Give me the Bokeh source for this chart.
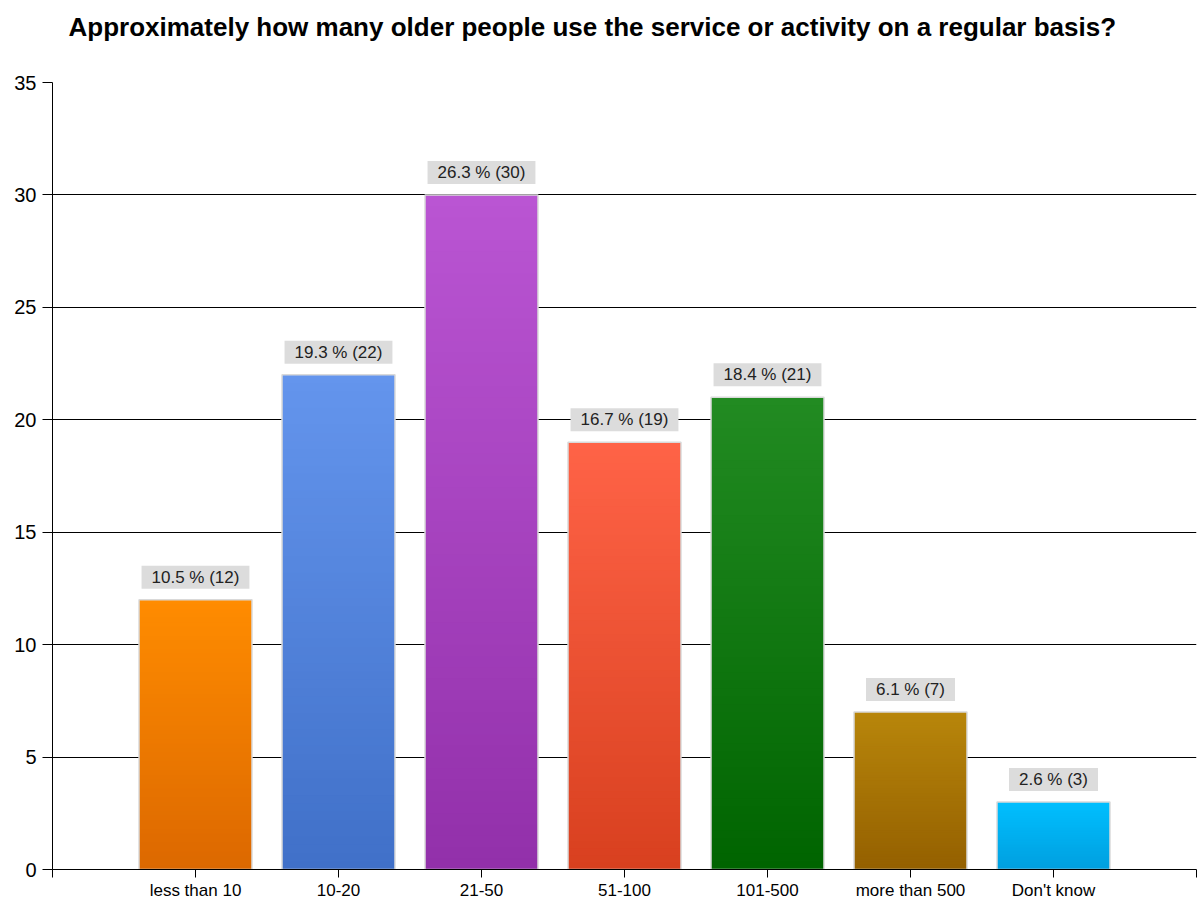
from bokeh.plotting import figure
from bokeh.models import FixedTicker, ColumnDataSource
from bokeh.core.properties import value
from bokeh.embed import file_html
from bokeh.resources import INLINE

categories = ["less than 10", "10-20", "21-50", "51-100", "101-500", "more than 500", "Don't know"]
counts = [12, 22, 30, 19, 21, 7, 3]
percents = [10.5, 19.3, 26.3, 16.7, 18.4, 6.1, 2.6]
top_colors = ["#FF8C00", "#6495ED", "#BA55D3", "#FF6347", "#228B22", "#B8860B", "#00BFFF"]
bottom_colors = ["#DC6800", "#4070C8", "#9230AA", "#D8401F", "#006400", "#946000", "#009FDF"]
y_ticks = [0, 5, 10, 15, 20, 25, 30, 35]
title_text = "Approximately how many older people use the service or activity on a regular basis?"

FONT = "Liberation Sans"

# a trailing empty line lifts the title towards the top of the page
p = figure(width=1198, height=900, x_range=(0, 8), y_range=(0, 35),
           output_backend="svg", toolbar_location=None, title=title_text + "\n ",
           min_border_left=52, min_border_right=2, min_border_top=82, min_border_bottom=20)
p.frame_width = 1144
p.frame_height = 787
p.outline_line_color = None
p.background_fill_color = "white"

p.title.text_font = FONT
p.title.text_font_size = "26px"
p.title.text_font_style = "bold"
p.title.align = "left"
p.title.vertical_align = "top"
p.title.offset = 16
p.title.standoff = 18
p.title.text_color = "black"

xs = list(range(1, len(categories) + 1))


def hex2rgb(h):
    h = h.lstrip("#")
    return tuple(int(h[i:i + 2], 16) for i in (0, 2, 4))


N = 60
bw = 0.79
L, R, B, T, C = [], [], [], [], []
for x, v, tc, bc in zip(xs, counts, top_colors, bottom_colors):
    t = hex2rgb(tc)
    b = hex2rgb(bc)
    for i in range(N):
        f = (i + 0.5) / N
        col = tuple(int(round(b[k] + (t[k] - b[k]) * f)) for k in range(3))
        L.append(x - bw / 2)
        R.append(x + bw / 2)
        B.append(v * i / N)
        T.append(min(v, v * (i + 2) / N))
        C.append("#%02x%02x%02x" % col)
p.quad(left=L, right=R, bottom=B, top=T, fill_color=C, line_color=None)
p.quad(left=[x - bw / 2 for x in xs], right=[x + bw / 2 for x in xs], bottom=0, top=counts,
       fill_color=None, line_color="#d9d9d9", line_width=1.5)

labels = ["%.1f %% (%d)" % (pc, c) for pc, c in zip(percents, counts)]
src = ColumnDataSource(dict(x=xs, y=counts, t=labels))
p.text(x="x", y="y", text="t", source=src, text_align="center", text_baseline="bottom",
       y_offset=-11, text_font=value(FONT), text_font_size="17px", text_color="#222222",
       background_fill_color="#dcdcdc", padding=dict(left=10, right=10, top=2, bottom=2))

p.xgrid.grid_line_color = None
p.ygrid.grid_line_color = "black"
p.ygrid.grid_line_width = 1
p.ygrid.ticker = FixedTicker(ticks=y_ticks)

p.xaxis.ticker = FixedTicker(ticks=list(range(0, 9)))
overrides = {0: "", 8: ""}
for x, c in zip(xs, categories):
    overrides[x] = c
p.xaxis.major_label_overrides = overrides
p.xaxis.minor_tick_line_color = None
p.xaxis.major_tick_in = 0
p.xaxis.major_tick_out = 8
p.xaxis.major_label_standoff = 3
p.xaxis.axis_line_color = "black"
p.xaxis.major_tick_line_color = "black"
p.xaxis.major_label_text_font = FONT
p.xaxis.major_label_text_font_size = "17px"
p.xaxis.major_label_text_color = "black"

p.yaxis.ticker = FixedTicker(ticks=y_ticks)
p.yaxis.minor_tick_line_color = None
p.yaxis.major_tick_in = 0
p.yaxis.major_tick_out = 10
p.yaxis.major_label_standoff = 6
p.yaxis.axis_line_color = "black"
p.yaxis.major_tick_line_color = "black"
p.yaxis.major_label_text_font = FONT
p.yaxis.major_label_text_font_size = "20px"
p.yaxis.major_label_text_color = "black"

open("out.html", "w").write(file_html(p, INLINE))
